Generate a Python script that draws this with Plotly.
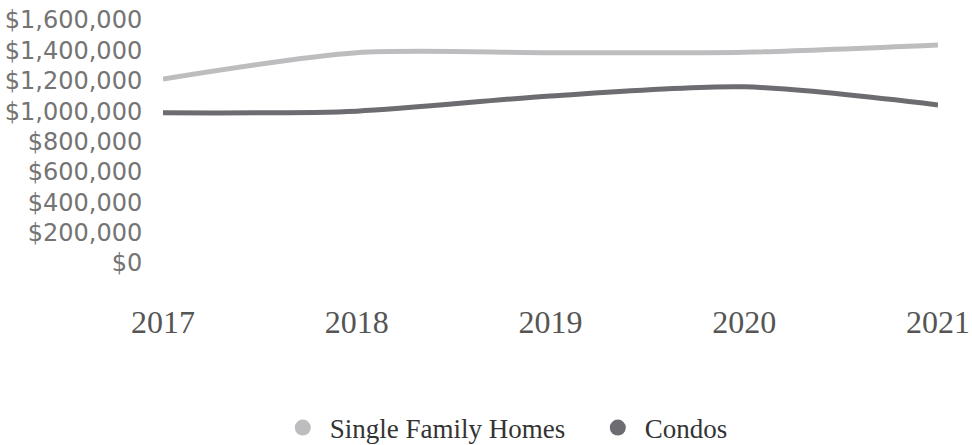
import plotly.graph_objects as go

years = ["2017", "2018", "2019", "2020", "2021"]
single_family = [1212000, 1385000, 1385000, 1388000, 1436000]
condos = [989000, 1000000, 1100000, 1160000, 1041000]
y_ticks = [0, 200000, 400000, 600000, 800000, 1000000, 1200000, 1400000, 1600000]
y_tick_labels = ["$0", "$200,000", "$400,000", "$600,000", "$800,000",
                 "$1,000,000", "$1,200,000", "$1,400,000", "$1,600,000"]

light = "#bdbdbf"
dark = "#6c6c71"

fig = go.Figure()
fig.add_trace(go.Scatter(x=years, y=single_family, mode="lines",
                         line=dict(color=light, width=5, shape="spline", smoothing=0.8),
                         showlegend=False, hoverinfo="skip"))
fig.add_trace(go.Scatter(x=years, y=condos, mode="lines",
                         line=dict(color=dark, width=5, shape="spline", smoothing=0.8),
                         showlegend=False, hoverinfo="skip"))
fig.add_trace(go.Scatter(x=[None], y=[None], mode="markers", name="Single Family Homes",
                         marker=dict(color=light, size=20, symbol="circle")))
fig.add_trace(go.Scatter(x=[None], y=[None], mode="markers", name="Condos",
                         marker=dict(color=dark, size=20, symbol="circle")))

fig.update_layout(
    width=972, height=445,
    margin=dict(l=163, r=34, t=20, b=182, autoexpand=False),
    plot_bgcolor="white", paper_bgcolor="white",
    xaxis=dict(type="category", showgrid=False, zeroline=False, showline=False,
               range=[0, 4], ticks="outside", ticklen=31, tickcolor="rgba(0,0,0,0)",
               automargin=False,
               tickfont=dict(family="Liberation Serif", size=32, color="#555555")),
    yaxis=dict(range=[0, 1600000], tickvals=y_ticks, ticktext=y_tick_labels,
               showgrid=False, zeroline=False, showline=False,
               ticks="outside", ticklen=15, tickcolor="rgba(0,0,0,0)",
               automargin=False,
               tickfont=dict(family="DejaVu Sans", size=24, color="#747474")),
    legend=dict(orientation="h", x=0.552, xanchor="center", y=-0.679, yanchor="middle",
                font=dict(family="Liberation Serif", size=27, color="#333333"),
                itemwidth=44, entrywidth=256, entrywidthmode="pixels",
                itemsizing="trace"),
)

fig.write_html("out.html", config={"displayModeBar": False},
               post_script="document.body.style.margin='0';")
